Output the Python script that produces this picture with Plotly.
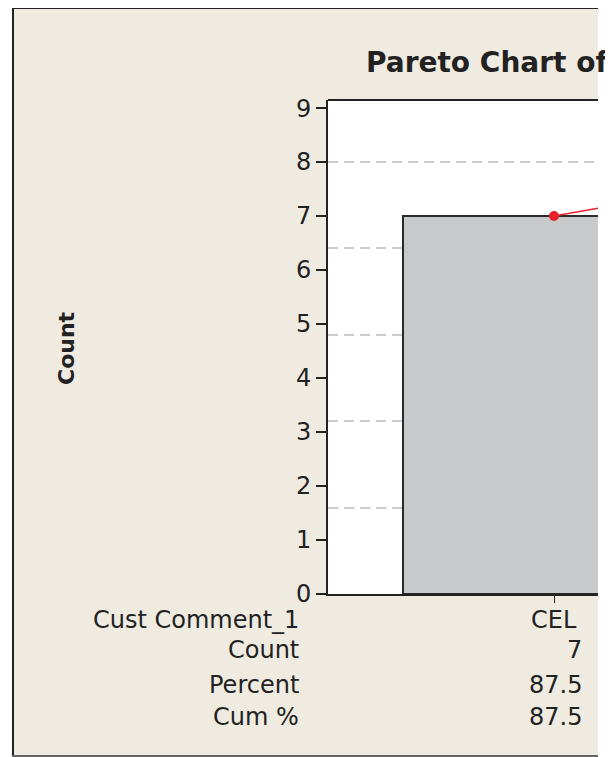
import plotly.graph_objects as go

categories = ["CEL", "Other"]
counts = [7, 1]
percent = [87.5, 12.5]
cum_pct = [87.5, 100.0]
y_ticks = [0, 1, 2, 3, 4, 5, 6, 7, 8, 9]
pct_grid = [20, 40, 60, 80, 100]
row_labels = ["Cust Comment_1", "Count", "Percent", "Cum %"]

OFF = 8  # page body margin of the html page
W, H = 613 - OFF, 757 - OFF
L, R, T, B = 328, 598, 100, 594  # in reference (page) pixels
pw, ph = R - L, B - T
total = sum(counts)
ymax = 9.15


def px(x):
    return (x - L) / pw


def py(y):
    return (B - y) / ph


xpos = list(range(len(categories)))
cum_counts = [c * total / 100 for c in cum_pct]
spacing = 302.0
xr = [(L - 554) / spacing, (R - 554) / spacing]

FONT = "DejaVu Sans"
TXT = "#222222"

fig = go.Figure()
fig.add_trace(go.Bar(
    x=xpos, y=counts, width=1.0,
    marker=dict(color="#C8C9CB", line=dict(color="#2a2a2a", width=2)),
    showlegend=False, hoverinfo="skip"))
fig.add_trace(go.Scatter(
    x=xpos, y=cum_counts, mode="lines+markers",
    line=dict(color="#E8202A", width=1.5),
    marker=dict(color="#E8202A", size=10),
    showlegend=False, hoverinfo="skip"))
fig.add_trace(go.Scatter(x=[0], y=[0], yaxis="y2", mode="markers",
                         marker=dict(opacity=0), showlegend=False, hoverinfo="skip"))

shapes = [
    dict(type="rect", xref="paper", yref="paper", x0=px(12), x1=px(598), y0=py(756), y1=py(8),
         fillcolor="#EFEBE1", line=dict(width=0), layer="below"),
    dict(type="rect", xref="paper", yref="paper", x0=0, x1=1, y0=0, y1=1,
         fillcolor="white", line=dict(width=0), layer="below"),
    dict(type="line", xref="paper", yref="paper", x0=px(13), x1=px(13), y0=py(757), y1=py(7),
         line=dict(color="#222222", width=2)),
    dict(type="line", xref="paper", yref="paper", x0=px(12), x1=px(598), y0=py(8), y1=py(8),
         line=dict(color="#222222", width=2)),
    dict(type="line", xref="paper", yref="paper", x0=px(12), x1=px(598), y0=py(756), y1=py(756),
         line=dict(color="#666666", width=2)),
    dict(type="line", xref="paper", yref="paper", x0=0, x1=1, y0=1, y1=1,
         line=dict(color="#222222", width=2)),
]

ann = []
ann.append(dict(text="<b>Pareto Chart of</b>", xref="paper", yref="paper", x=px(364), y=py(62),
                xanchor="left", yanchor="middle", showarrow=False,
                font=dict(family=FONT, size=28, color=TXT)))
ann.append(dict(text="<b>Count</b>", xref="paper", yref="paper", x=px(66), y=py(348),
                xanchor="center", yanchor="middle", textangle=-90, showarrow=False,
                font=dict(family=FONT, size=22, color=TXT)))
row_y = [620, 650, 685, 717]
for lab, yy in zip(row_labels, row_y):
    ann.append(dict(text=lab, xref="paper", yref="paper", x=px(301), y=py(yy),
                    xanchor="right", yanchor="middle", showarrow=False,
                    font=dict(family=FONT, size=24, color=TXT)))
vals = [str(counts[0]), f"{percent[0]:.1f}", f"{cum_pct[0]:.1f}"]
ann.append(dict(text=categories[0], xref="x", yref="paper", x=xpos[0], y=py(row_y[0]),
                xanchor="center", yanchor="middle", showarrow=False,
                font=dict(family=FONT, size=24, color=TXT)))
for v, yy in zip(vals, row_y[1:]):
    ann.append(dict(text=v, xref="paper", yref="paper", x=px(584), y=py(yy),
                    xanchor="right", yanchor="middle", showarrow=False,
                    font=dict(family=FONT, size=24, color=TXT)))

fig.update_layout(
    width=W, height=H,
    margin=dict(l=L - OFF, r=W - (R - OFF), t=T - OFF, b=H - (B - OFF), pad=0),
    paper_bgcolor="white", plot_bgcolor="rgba(0,0,0,0)",
    bargap=0,
    xaxis=dict(range=xr, tickvals=[xpos[0]], ticks="outside", ticklen=7, tickwidth=1,
               tickcolor="#222222", showticklabels=False, showgrid=False, zeroline=False,
               showline=True, linecolor="#222222", linewidth=2),
    yaxis=dict(range=[0, ymax], tickvals=y_ticks, ticks="outside", ticklen=10, tickwidth=1.5,
               tickcolor="#222222", showgrid=False, zeroline=False, showline=True,
               linecolor="#222222", linewidth=2,
               tickfont=dict(family=FONT, size=24, color=TXT)),
    yaxis2=dict(range=[0, ymax / total * 100], overlaying="y", side="right",
                tickvals=pct_grid, showticklabels=False, ticks="", showgrid=True,
                gridcolor="#CCCCCC", gridwidth=1.5, griddash="10px,6px", zeroline=False,
                showline=False),
    shapes=shapes, annotations=ann,
)

fig.write_html("out.html")
